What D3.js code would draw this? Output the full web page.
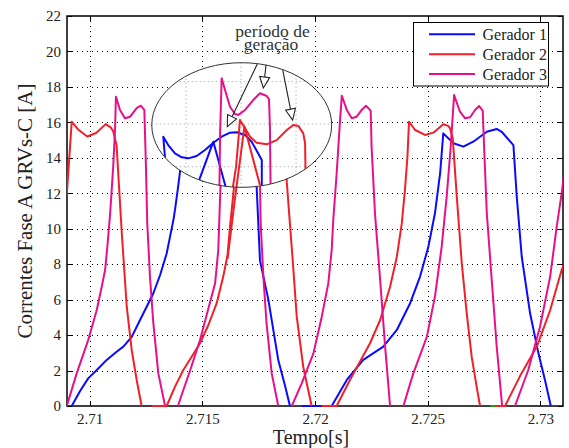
<!DOCTYPE html>
<html>
<head>
<meta charset="utf-8">
<script src="https://cdn.jsdelivr.net/npm/d3@7"></script>
<style>
  html, body { margin: 0; padding: 0; background: #fff; }
  svg { display: block; }
</style>
</head>
<body>
<svg id="chart" width="569" height="448"></svg>
<script>
// ---- axis ticks ----
const xTicks = [2.71, 2.715, 2.72, 2.725, 2.73];
const yTicks = [0, 2, 4, 6, 8, 10, 12, 14, 16, 18, 20, 22];

// ---- legend ----
const seriesNames = ["Gerador 1", "Gerador 2", "Gerador 3"];
const seriesColors = ["#0a0aff", "#f0202a", "#e8108a"];

// ---- phase A currents [time s, current A]; null splits the trace ----
const gerador1 = [
  [2.70921, 0], [2.70958, 0.85], [2.70994, 1.56], [2.71032, 2.03], [2.71076, 2.6],
  [2.71120, 3.06], [2.71150, 3.35], [2.71187, 3.9], [2.71224, 4.85], [2.71261, 5.8],
  [2.71283, 6.36], [2.71313, 7.39], [2.71342, 8.6], [2.71372, 10.5], [2.71379, 11.06],
  [2.71394, 12.47], [2.71401, 13.2], [2.71415, 15.38], [2.71459, 14.8], [2.71503, 14.63],
  [2.71605, 15.5], [2.71672, 15.6], [2.71725, 14.72], [2.71741, 12.4], [2.71756, 8.2],
  [2.71793, 6.0], [2.71837, 2.6], [2.71866, 1.2], [2.71889, 0],
  null,
  [2.71941, 0], [2.72074, 0], [2.72141, 1.47], [2.72214, 2.6], [2.72303, 3.35],
  [2.72363, 4.29], [2.72422, 5.8], [2.72466, 7.3], [2.72503, 8.99], [2.72532, 10.87],
  [2.72555, 13.13], [2.72569, 15.38], [2.72614, 14.82], [2.72658, 14.63], [2.72702, 14.91],
  [2.72762, 15.47], [2.72806, 15.63], [2.72828, 15.47], [2.72880, 14.72], [2.72895, 11.8],
  [2.72917, 8.42], [2.72954, 5.23], [2.72991, 2.97], [2.73020, 1.47], [2.73046, 0]
];

const gerador2 = [
  [2.70899, 11.9], [2.70921, 16.04], [2.70949, 15.6], [2.70990, 15.2], [2.71029, 15.4],
  [2.71072, 15.9], [2.71095, 15.7], [2.71105, 15.5], [2.71120, 14.7], [2.71143, 9.76],
  [2.71165, 5.6], [2.71187, 3.16], [2.71209, 1.47], [2.71231, 0],
  null,
  [2.71276, 0], [2.71342, 0], [2.71379, 1.09], [2.71416, 2.03], [2.71453, 2.78],
  [2.71490, 3.54], [2.71527, 4.57], [2.71564, 5.8], [2.71593, 7.3], [2.71612, 8.5],
  [2.71623, 10.1], [2.71638, 12.0], [2.71650, 13.5], [2.71660, 15.0], [2.71667, 16.04],
  [2.71738, 15.2], [2.71818, 15.9], [2.71854, 15.5], [2.71867, 14.7], [2.71875, 12.6],
  [2.71901, 8.24], [2.71919, 5.04], [2.71948, 2.2], [2.71985, 0],
  null,
  [2.72030, 0], [2.72096, 0], [2.72155, 1.47], [2.72244, 3.54], [2.72289, 4.85],
  [2.72333, 6.73], [2.72363, 8.42], [2.72385, 10.3], [2.72399, 12.2], [2.72410, 14.06],
  [2.72417, 16.04], [2.72444, 15.57], [2.72488, 15.29], [2.72525, 15.42], [2.72569, 15.89],
  [2.72591, 15.8], [2.72599, 15.66], [2.72611, 15.1], [2.72629, 11.8], [2.72651, 8.05],
  [2.72673, 5.23], [2.72695, 2.78], [2.72717, 1.09], [2.72732, 0],
  null,
  [2.72799, 0], [2.72843, 0], [2.72910, 1.7], [2.72984, 3.35], [2.73043, 5.4],
  [2.73094, 7.67], [2.73104, 8.0]
];

const gerador3 = [
  [2.70899, 0], [2.70943, 1.84], [2.70994, 3.72], [2.71032, 5.42], [2.71054, 6.73],
  [2.71069, 7.67], [2.71079, 8.99], [2.71091, 10.8], [2.71105, 13.5], [2.71113, 15.57],
  [2.71117, 17.45], [2.71135, 16.7], [2.71157, 16.23], [2.71180, 16.32], [2.71209, 16.8],
  [2.71227, 16.94], [2.71243, 16.7], [2.71249, 14.06], [2.71256, 10.3], [2.71268, 7.3],
  [2.71283, 4.67], [2.71305, 1.84], [2.71335, 0],
  null,
  [2.71392, 0], [2.71416, 0.9], [2.71446, 2.0], [2.71490, 3.72], [2.71527, 5.5],
  [2.71557, 6.92], [2.71571, 8.8], [2.71581, 12.5], [2.71619, 17.45], [2.71667, 16.3],
  [2.71728, 16.94], [2.71747, 16.7], [2.71754, 14.06], [2.71759, 10.3], [2.71771, 7.3],
  [2.71785, 4.67], [2.71808, 1.84], [2.71837, 0],
  null,
  [2.71897, 0], [2.71941, 1.28], [2.71993, 2.97], [2.72030, 5.04], [2.72059, 6.92],
  [2.72074, 8.8], [2.72081, 10.5], [2.72096, 13.1], [2.72111, 16.1], [2.72119, 17.5],
  [2.72141, 16.7], [2.72163, 16.23], [2.72185, 16.32], [2.72207, 16.7], [2.72226, 16.94],
  [2.72247, 16.66], [2.72251, 14.63], [2.72266, 10.87], [2.72289, 7.1], [2.72311, 3.35],
  [2.72333, 0],
  null,
  [2.72392, 0], [2.72436, 1.84], [2.72496, 3.9], [2.72532, 6.17], [2.72562, 8.99],
  [2.72584, 11.8], [2.72602, 14.63], [2.72617, 17.54], [2.72643, 16.6], [2.72666, 16.23],
  [2.72688, 16.29], [2.72710, 16.7], [2.72728, 16.92], [2.72744, 16.66], [2.72750, 14.63],
  [2.72762, 10.87], [2.72784, 7.1], [2.72806, 3.35], [2.72830, 0],
  null,
  [2.72887, 0], [2.72946, 2.03], [2.72998, 4.47], [2.73043, 7.3], [2.73072, 10.1],
  [2.73094, 12.0], [2.73104, 13.0]
];

// short stretch of the auxiliary trace sitting on zero
const auxiliar = [[2.72777, 0], [2.72799, 0]];

// ---- magnified "período de geração" detail shown inside the ellipse ----
const detalheGerador1 = [
  [2.71335, 13.97], [2.71327, 15.19], [2.71349, 14.72], [2.71379, 14.25], [2.71409, 14.03],
  [2.71438, 13.97], [2.71475, 14.1], [2.71512, 14.44], [2.71549, 14.85], [2.71586, 15.19],
  [2.71623, 15.42], [2.71653, 15.44], [2.71690, 15.29], [2.71719, 14.91], [2.71764, 13.88],
  [2.71764, 12.2],
  null,
  [2.71482, 12.6], [2.71549, 14.91], [2.71605, 12.3]
];
const detalheGerador2 = [
  [2.71634, 12.2], [2.71650, 13.5], [2.71660, 15.0], [2.71667, 16.13], [2.71690, 15.66],
  [2.71712, 15.19], [2.71741, 14.85], [2.71786, 14.76], [2.71830, 15.0], [2.71875, 15.57],
  [2.71904, 15.85], [2.71926, 15.8], [2.71948, 15.38], [2.71956, 14.82], [2.71958, 13.2]
];
// steep edge of the detail that runs out of the ellipse down to the main trace
const detalheGerador2Borda = [
  [2.71612, 8.3], [2.71645, 11.7], [2.71687, 15.76], [2.71756, 12.45]
];
const detalheGerador3 = [
  [2.71576, 12.2], [2.71579, 15.38], [2.71586, 18.49], [2.71601, 17.83], [2.71623, 16.88],
  [2.71645, 16.47], [2.71660, 16.42], [2.71690, 16.7], [2.71726, 17.26], [2.71756, 17.64],
  [2.71786, 17.49], [2.71796, 17.3], [2.71800, 15.76], [2.71803, 12.3]
];
const detalheGradeX = [2.71428, 2.71672, 2.71916];
const detalheGradeY = [13.5, 15.9, 18.3];

// ---- layout ----
const plot = { left: 67, right: 563, top: 16, bottom: 406 };
const svg = d3.select("#chart");
const serif = "'Liberation Serif', 'Times New Roman', serif";
const ink = "#222";

const x = d3.scaleLinear().domain([2.709, 2.731]).range([plot.left, plot.right]);
const y = d3.scaleLinear().domain([0, 22]).range([plot.bottom, plot.top]);

const defs = svg.append("defs");
defs.append("clipPath").attr("id", "plotClip")
  .append("rect")
  .attr("x", plot.left).attr("y", plot.top - 2)
  .attr("width", plot.right - plot.left).attr("height", plot.bottom - plot.top + 4);

// ellipse geometry from data coordinates
const ell = { t: 2.71675, v: 15.85, dt: 0.00399, dv: 3.515 };
const ecx = x(ell.t), ecy = y(ell.v);
const erx = x(ell.t + ell.dt) - ecx, ery = y(ell.v - ell.dv) - ecy;
defs.append("clipPath").attr("id", "ellClip")
  .append("ellipse").attr("cx", ecx).attr("cy", ecy).attr("rx", erx).attr("ry", ery);

// ---- grid ----
const grid = svg.append("g").attr("stroke", "#000").attr("stroke-width", 1)
  .attr("stroke-dasharray", "1,4");
grid.selectAll("line.gx").data(xTicks).join("line")
  .attr("x1", d => Math.round(x(d)) + 0.5).attr("x2", d => Math.round(x(d)) + 0.5)
  .attr("y1", plot.top).attr("y2", plot.bottom);
grid.selectAll("line.gy").data(yTicks.filter(d => d > 0 && d < 22)).join("line")
  .attr("y1", d => Math.round(y(d)) + 0.5).attr("y2", d => Math.round(y(d)) + 0.5)
  .attr("x1", plot.left).attr("x2", plot.right);

// ---- frame, axes ----
svg.append("rect")
  .attr("x", plot.left).attr("y", plot.top)
  .attr("width", plot.right - plot.left).attr("height", plot.bottom - plot.top)
  .attr("fill", "none").attr("stroke", "#000").attr("stroke-width", 1.5);

const xAxis = d3.axisBottom(x).tickValues(xTicks).tickSize(0).tickPadding(7)
  .tickFormat(d => d3.format("")(+d.toFixed(3)));
const gx = svg.append("g").attr("transform", `translate(0,${plot.bottom})`).call(xAxis);
gx.select(".domain").remove();
gx.selectAll("text").attr("font-family", serif).attr("font-size", 15).attr("fill", ink);

const yAxis = d3.axisLeft(y).tickValues(yTicks).tickSize(0).tickPadding(6);
const gy = svg.append("g").attr("transform", `translate(${plot.left},0)`).call(yAxis);
gy.select(".domain").remove();
gy.selectAll("text").attr("font-family", serif).attr("font-size", 15).attr("fill", ink);

// inward tick marks on all four sides
const tk = svg.append("g").attr("stroke", "#000").attr("stroke-width", 1);
xTicks.forEach(d => {
  const px = Math.round(x(d)) + 0.5;
  tk.append("line").attr("x1", px).attr("x2", px).attr("y1", plot.bottom).attr("y2", plot.bottom - 5);
  tk.append("line").attr("x1", px).attr("x2", px).attr("y1", plot.top).attr("y2", plot.top + 5);
});
yTicks.forEach(d => {
  const py = Math.round(y(d)) + 0.5;
  tk.append("line").attr("y1", py).attr("y2", py).attr("x1", plot.left).attr("x2", plot.left + 5);
  tk.append("line").attr("y1", py).attr("y2", py).attr("x1", plot.right).attr("x2", plot.right - 5);
});

// axis titles
svg.append("text").text("Tempo[s]")
  .attr("x", (plot.left + plot.right) / 2 - 4).attr("y", 444)
  .attr("text-anchor", "middle").attr("font-family", serif).attr("font-size", 20).attr("fill", ink);
svg.append("text").text("Correntes Fase A GRVs-C [A]")
  .attr("transform", "translate(32,211) rotate(-90)")
  .attr("text-anchor", "middle").attr("font-family", serif).attr("font-size", 21).attr("fill", ink);

// ---- series ----
const line = d3.line().defined(d => d !== null).x(d => x(d[0])).y(d => y(d[1]));
const curves = svg.append("g").attr("clip-path", "url(#plotClip)")
  .attr("fill", "none").attr("stroke-width", 2).attr("stroke-linejoin", "round");
[gerador1, gerador2, gerador3].forEach((s, i) => {
  curves.append("path").datum(s).attr("d", line).attr("stroke", seriesColors[i]);
});
curves.append("path").datum(auxiliar).attr("d", line).attr("stroke", "#1a9a1a");

// ---- magnified detail inside the ellipse ----
svg.append("ellipse").attr("cx", ecx).attr("cy", ecy).attr("rx", erx).attr("ry", ery)
  .attr("fill", "#fff");
const det = svg.append("g").attr("clip-path", "url(#ellClip)");
const dg = det.append("g").attr("stroke", "#9a9a9a").attr("stroke-width", 1).attr("stroke-dasharray", "1,3");
dg.selectAll("line.dx").data(detalheGradeX).join("line")
  .attr("x1", d => x(d)).attr("x2", d => x(d)).attr("y1", ecy - ery).attr("y2", ecy + ery);
dg.selectAll("line.dy").data(detalheGradeY).join("line")
  .attr("y1", d => y(d)).attr("y2", d => y(d)).attr("x1", ecx - erx).attr("x2", ecx + erx);
const dc = det.append("g").attr("fill", "none").attr("stroke-width", 2).attr("stroke-linejoin", "round");
[detalheGerador1, detalheGerador2, detalheGerador3].forEach((s, i) => {
  dc.append("path").datum(s).attr("d", line).attr("stroke", seriesColors[i]);
});
svg.append("path").datum(detalheGerador2Borda).attr("d", line)
  .attr("fill", "none").attr("stroke", seriesColors[1]).attr("stroke-width", 2)
  .attr("stroke-linejoin", "round");
svg.append("ellipse").attr("cx", ecx).attr("cy", ecy).attr("rx", erx).attr("ry", ery)
  .attr("fill", "none").attr("stroke", "#333").attr("stroke-width", 1);

// ---- annotation ----
const note = svg.append("g").attr("font-family", serif).attr("font-size", 17.5)
  .attr("fill", "#333").attr("text-anchor", "middle");
note.append("text").text("período de").attr("x", 272.5).attr("y", 36.5);
note.append("text").text("geração").attr("x", 271).attr("y", 50);

const arrows = [
  { from: [2.71744, 19.29], to: [2.71611, 15.76] },
  { from: [2.71783, 19.24], to: [2.71771, 17.94] },
  { from: [2.71857, 18.95], to: [2.71901, 16.13] }
];
const ag = svg.append("g").attr("stroke", "#222").attr("stroke-width", 1.1);
arrows.forEach(a => {
  const x0 = x(a.from[0]), y0 = y(a.from[1]), x1 = x(a.to[0]), y1 = y(a.to[1]);
  const dx = x1 - x0, dy = y1 - y0, L = Math.hypot(dx, dy);
  const ux = dx / L, uy = dy / L, len = 11, hw = 5;
  const bx = x1 - ux * len, by = y1 - uy * len;
  ag.append("line").attr("x1", x0).attr("y1", y0).attr("x2", bx).attr("y2", by);
  ag.append("polygon")
    .attr("points", [[x1, y1], [bx - uy * hw, by + ux * hw], [bx + uy * hw, by - ux * hw]].map(p => p.join(",")).join(" "))
    .attr("fill", "#fff");
});

// ---- legend ----
const lg = svg.append("g");
lg.append("rect").attr("x", 413.5).attr("y", 22.5).attr("width", 135).attr("height", 63.5)
  .attr("fill", "#fff").attr("stroke", "#000").attr("stroke-width", 1);
seriesNames.forEach((name, i) => {
  const ry = 34.3 + i * 19.9;
  lg.append("line").attr("x1", 429).attr("x2", 475).attr("y1", ry).attr("y2", ry)
    .attr("stroke", seriesColors[i]).attr("stroke-width", 2);
  lg.append("text").text(name).attr("x", 482.5).attr("y", ry + 5.5)
    .attr("font-family", serif).attr("font-size", 16).attr("fill", ink);
});
</script>
</body>
</html>
